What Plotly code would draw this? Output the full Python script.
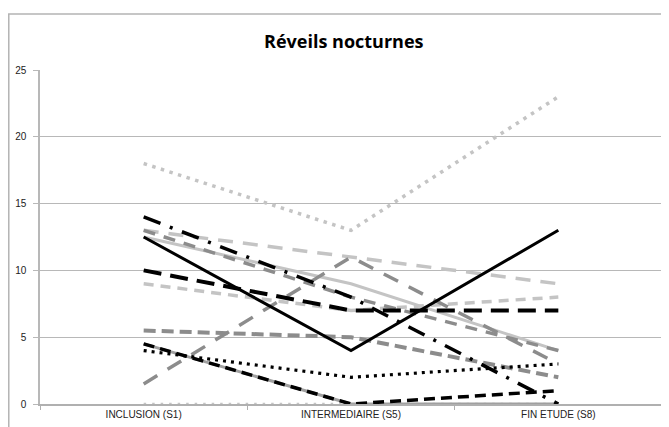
import plotly.graph_objects as go

categories = ["INCLUSION (S1)", "INTERMEDIAIRE (S5)", "FIN ETUDE (S8)"]

s_lgray_dot_high = [18, 13, 23]
s_black_solid = [12.5, 4, 13]
s_black_dashdot = [14, 8, 0]
s_mgray_dash_13 = [13, 8, 4]
s_lgray_longdash = [13, 11, 9]
s_lgray_solid = [12.5, 9, 4]
s_black_longdash = [10, 7, 7]
s_lgray_dash = [9, 7, 8]
s_mgray_longdash = [1.5, 11, 3]
s_mgray_dash_55 = [5.5, 5, 2]
s_gray_solid = [4.5, 0, 0]
s_black_dash = [4.5, 0, 1]
s_black_dot = [4, 2, 3]
s_lgray_dot_zero = [0, 0, 0]

y_ticks = [0, 5, 10, 15, 20, 25]

BLACK = "#000000"
MGRAY = "#8c8c8c"
LGRAY = "#c4c4c4"

series = [
    (s_lgray_dot_zero, LGRAY, "2.5px,6px", 2.5),
    (s_gray_solid, "#a0a0a0", "solid", 3),
    (s_lgray_dot_high, LGRAY, "3.5px,5.5px", 3.5),
    (s_lgray_longdash, LGRAY, "15px,10px", 3.5),
    (s_lgray_dash, LGRAY, "10px,7px", 3.5),
    (s_lgray_solid, LGRAY, "solid", 3),
    (s_mgray_dash_13, MGRAY, "12px,9px", 3.5),
    (s_mgray_longdash, MGRAY, "16px,12px", 3.5),
    (s_mgray_dash_55, MGRAY, "12px,6px", 4),
    (s_black_longdash, BLACK, "18px,9px", 4),
    (s_black_dash, BLACK, "11px,6px", 3.5),
    (s_black_dot, BLACK, "3px,5px", 3.2),
    (s_black_dashdot, BLACK, "18px,10px,3px,10px", 3.5),
    (s_black_solid, BLACK, "solid", 3),
]

fig = go.Figure()
for vals, col, dash, w in series:
    fig.add_trace(go.Scatter(
        x=categories, y=vals, mode="lines",
        line=dict(color=col, dash=dash, width=w),
        showlegend=False, hoverinfo="skip",
    ))

fig.update_layout(
    width=661, height=419,
    margin=dict(l=32, r=7, t=62, b=23),
    paper_bgcolor="white", plot_bgcolor="white",
    title=dict(text="<b>Réveils nocturnes</b>", x=0.508, xanchor="center",
               y=0.919, yanchor="middle",
               font=dict(family="Open Sans, Liberation Sans, sans-serif", size=18, color="#000000")),
    font=dict(family="Liberation Sans Narrow, Liberation Sans, sans-serif", size=10, color="#222222"),
    shapes=[dict(type="rect", xref="paper", yref="paper",
                 x0=-0.0502, x1=1.0064, y0=-0.3, y1=1.1677,
                 line=dict(color="#b4b4b4", width=1.5), fillcolor="rgba(0,0,0,0)", layer="below")],
)
fig.update_xaxes(
    type="category", range=[-0.5, 2.5],
    showgrid=False, showline=True, linecolor="#b0b0b0", linewidth=1.5,
    ticks="outside", tickson="boundaries", ticklen=4, tickcolor="#b0b0b0",
    tickfont=dict(size=10, color="#222222"),
)
fig.update_yaxes(
    range=[0, 25], tickvals=y_ticks,
    showgrid=True, gridcolor="#b8b8b8", gridwidth=1.2,
    showline=True, linecolor="#b8b8b8", linewidth=1.5,
    ticks="outside", ticklen=5, tickcolor="#b8b8b8",
    ticklabelstandoff=5,
    zeroline=False,
    tickfont=dict(size=10, color="#222222"),
)

fig.write_html("out.html")
